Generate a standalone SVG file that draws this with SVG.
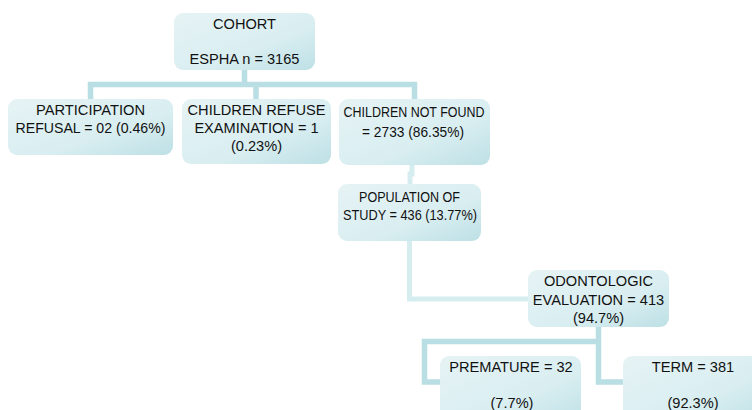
<svg xmlns="http://www.w3.org/2000/svg" width="752" height="410" viewBox="0 0 752 410">
<defs>
<linearGradient id="g" x1="0" y1="0" x2="1" y2="1">
<stop offset="0" stop-color="#e6f3f5"/>
<stop offset="0.6" stop-color="#d9eef1"/>
<stop offset="1" stop-color="#bde0e5"/>
</linearGradient>
<style>
.box{fill:url(#g);}
.t{font-family:"Liberation Sans",Arial,sans-serif;font-size:14.6px;fill:#111;text-anchor:middle;}
.c{font-family:"Liberation Sans",Arial,sans-serif;font-size:14.6px;fill:#111;text-anchor:middle;}
.l{fill:none;stroke:#b9dee3;stroke-width:5.5;stroke-linejoin:miter;}
.l2{fill:none;stroke:#d6edf0;stroke-width:5;}
</style>
</defs>
<rect width="752" height="410" fill="#ffffff"/>
<g id="connectors">
<path class="l" d="M244.5 70 V84.5 M90.5 99 V84.5 H414.5 V99 M256 84.5 V99"/>
<path class="l2" d="M412 165 V174 H410 V184"/>
<path class="l2" d="M409.5 241 V299 H528"/>
<path class="l" d="M598.5 327 V382 H623 M598.5 341.5 H424.5 V382 H440"/>
</g>
<g id="cohort">
<rect class="box" x="174" y="13" width="141" height="57" rx="9"/>
<text class="t" x="244.5" y="29">COHORT</text>
<text class="t" x="244.5" y="64">ESPHA n = 3165</text>
</g>
<g id="participation">
<rect class="box" x="8" y="99" width="165" height="56" rx="9"/>
<text class="t" x="90.5" y="115" textLength="109" lengthAdjust="spacingAndGlyphs">PARTICIPATION</text>
<text class="t" x="90.5" y="133" textLength="150" lengthAdjust="spacingAndGlyphs">REFUSAL = 02 (0.46%)</text>
</g>
<g id="refuse">
<rect class="box" x="182" y="99" width="149" height="65" rx="9"/>
<text class="t" x="256.5" y="115">CHILDREN REFUSE</text>
<text class="t" x="256.5" y="133">EXAMINATION = 1</text>
<text class="t" x="256.5" y="151">(0.23%)</text>
</g>
<g id="notfound">
<rect class="box" x="339" y="99" width="151" height="66" rx="9"/>
<text class="c" x="414" y="117" textLength="141" lengthAdjust="spacingAndGlyphs">CHILDREN NOT FOUND</text>
<text class="c" x="413" y="137" textLength="102" lengthAdjust="spacingAndGlyphs">= 2733 (86.35%)</text>
</g>
<g id="population">
<rect class="box" x="338" y="184" width="143" height="57" rx="9"/>
<text class="c" x="409.5" y="202" textLength="101" lengthAdjust="spacingAndGlyphs">POPULATION OF</text>
<text class="c" x="410" y="220" textLength="134" lengthAdjust="spacingAndGlyphs">STUDY = 436 (13.77%)</text>
</g>
<g id="odontologic">
<rect class="box" x="528" y="270" width="141" height="57" rx="9"/>
<text class="t" x="598.5" y="286">ODONTOLOGIC</text>
<text class="t" x="598.5" y="305">EVALUATION = 413</text>
<text class="t" x="598.5" y="323">(94.7%)</text>
</g>
<g id="premature">
<rect class="box" x="440" y="356" width="141" height="70" rx="9"/>
<text class="t" x="511" y="372">PREMATURE = 32</text>
<text class="t" x="512" y="408">(7.7%)</text>
</g>
<g id="term">
<rect class="box" x="623" y="356" width="141" height="70" rx="9"/>
<text class="t" x="693" y="372">TERM = 381</text>
<text class="t" x="693" y="408">(92.3%)</text>
</g>
</svg>
